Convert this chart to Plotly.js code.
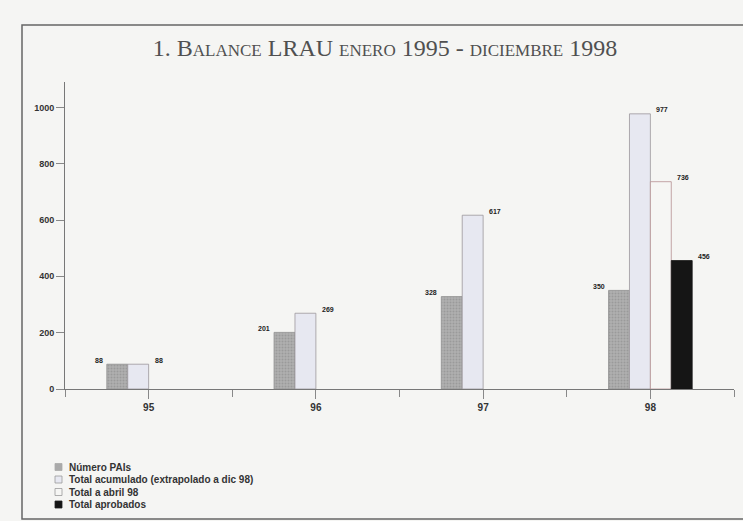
<!DOCTYPE html>
<html>
<head>
<meta charset="utf-8">
<script src="https://cdn.plot.ly/plotly-3.0.1.min.js"></script>
<style>
  html, body { margin: 0; padding: 0; background: #f5f5f3; }
  #chart { width: 743px; height: 521px; }
</style>
</head>
<body>
<div id="chart"></div>
<script>
// Balance LRAU, enero 1995 - diciembre 1998
const years = ['95', '96', '97', '98'];
const numeroPAIs = [88, 201, 328, 350];
const totalAcumulado = [88, 269, 617, 977];
const totalAbril98 = [null, null, null, 736];
const totalAprobados = [null, null, null, 456];
const seriesNames = [
  'Número PAIs',
  'Total acumulado (extrapolado a dic 98)',
  'Total a abril 98',
  'Total aprobados'
];
const yTicks = [0, 200, 400, 600, 800, 1000];

// page geometry
const W = 743, H = 521;
const M = { l: 65, r: 9, t: 82, b: 132 };
const PW = W - M.l - M.r, PH = H - M.t - M.b;
const px = x => (x - M.l) / PW;          // pixel -> paper x
const py = y => (H - M.b - y) / PH;      // pixel -> paper y

const seriesValues = [numeroPAIs, totalAcumulado, totalAbril98, totalAprobados];
const styles = [
  { fill: '#aaaaaa', line: '#8f8f8f', lw: 0.8 },
  { fill: '#e7e8f1', line: '#9c979c', lw: 0.8 },
  { fill: '#f6f6f4', line: '#b58f92', lw: 0.8 },
  { fill: '#151515', line: '#151515', lw: 0.8 }
];
const barWidth = 0.125;
const offsets = [-0.25, -0.125, 0, 0.125];
const xIdx = years.map((_, i) => i);

const traces = seriesValues.map((vals, s) => {
  const t = {
    type: 'bar',
    name: seriesNames[s],
    x: xIdx,
    y: vals,
    width: barWidth,
    offset: offsets[s],
    marker: { color: styles[s].fill, line: { color: styles[s].line, width: styles[s].lw } },
    hoverinfo: 'skip',
    showlegend: false
  };
  if (s === 0) {
    // grainy stipple on the grey bars
    t.marker.pattern = { shape: '.', fgcolor: '#9a9a9a', bgcolor: '#b0b0b0', size: 3, solidity: 0.35 };
  }
  return t;
});

const labelFont = { family: 'Liberation Sans, Arial, sans-serif', size: 7, color: '#222', weight: 'bold' };
const annotations = [];
seriesValues.forEach((vals, s) => {
  vals.forEach((v, i) => {
    if (v === null) return;
    const left = s === 0;
    annotations.push({
      xref: 'x', yref: 'y',
      x: i + offsets[s] + (left ? 0 : barWidth),
      y: v,
      text: String(v),
      showarrow: false,
      xanchor: left ? 'right' : 'left',
      yanchor: 'middle',
      xshift: left ? -2 : 4,
      yshift: 4,
      font: labelFont
    });
  });
});

// legend block at the lower left
const legendRows = [467, 479.5, 492, 504.5];
const shapes = [];
seriesNames.forEach((name, s) => {
  const cy = legendRows[s];
  shapes.push({
    type: 'rect', xref: 'paper', yref: 'paper',
    x0: px(55), x1: px(62), y0: py(cy + 3.5), y1: py(cy - 3.5),
    fillcolor: styles[s].fill,
    line: { color: s === 0 ? styles[s].fill : (s === 3 ? '#222' : '#9a9a9a'), width: 0.8 }
  });
  annotations.push({
    xref: 'paper', yref: 'paper',
    x: px(67), y: py(cy),
    text: name, showarrow: false,
    xanchor: 'left', yanchor: 'middle',
    font: { family: 'Liberation Sans, Arial, sans-serif', size: 10, color: '#333', weight: 'bold' }
  });
});

// outer frame
shapes.push({
  type: 'rect', xref: 'paper', yref: 'paper', layer: 'below',
  x0: px(22), x1: px(760), y0: py(519), y1: py(25),
  line: { color: '#666', width: 1.5 }, fillcolor: 'rgba(0,0,0,0)'
});

const layout = {
  width: W, height: H,
  margin: M,
  paper_bgcolor: '#f5f5f3',
  plot_bgcolor: '#f5f5f3',
  showlegend: false,
  barmode: 'overlay',
  title: {
    text: '1. Balance LRAU enero 1995 - diciembre 1998',
    font: { family: 'Liberation Serif, Times New Roman, serif', size: 24, color: '#505050', variant: 'small-caps' },
    xref: 'container', yref: 'container',
    x: 385 / W, xanchor: 'center',
    y: 1 - 48 / H, yanchor: 'middle'
  },
  xaxis: {
    range: [-0.5, 3.5],
    tickmode: 'array',
    tickvals: xIdx,
    ticktext: years,
    ticks: 'outside', ticklen: 9, tickwidth: 1, tickcolor: '#888',
    minor: { tickmode: 'array', tickvals: [-0.5, 0.5, 1.5, 2.5, 3.5], ticks: 'outside', ticklen: 7, tickwidth: 1, tickcolor: '#888' },
    showline: true, linecolor: '#777', linewidth: 1,
    showgrid: false, zeroline: false,
    tickfont: { family: 'Liberation Sans, Arial, sans-serif', size: 10, color: '#333', weight: 'bold' }
  },
  yaxis: {
    range: [0, 1090],
    tickmode: 'array',
    tickvals: yTicks,
    ticks: 'outside', ticklen: 8, tickwidth: 1, tickcolor: '#888',
    showline: true, linecolor: '#777', linewidth: 1,
    showgrid: false, zeroline: false,
    tickfont: { family: 'Liberation Sans, Arial, sans-serif', size: 9, color: '#333', weight: 'bold' }
  },
  annotations: annotations,
  shapes: shapes
};

Plotly.newPlot('chart', traces, layout, { staticPlot: true, displayModeBar: false });
</script>
</body>
</html>
